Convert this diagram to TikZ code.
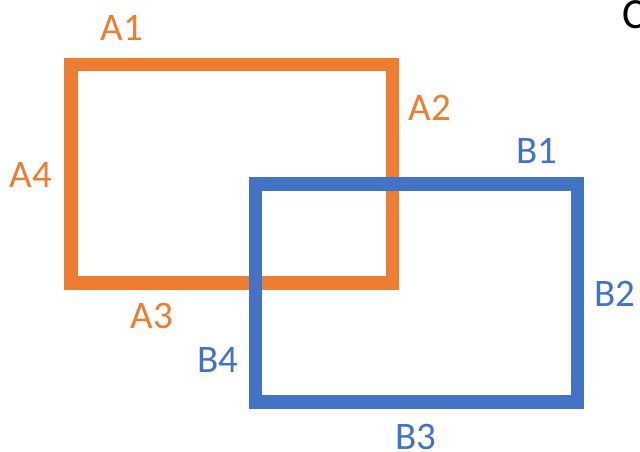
\documentclass[tikz,border=0pt]{standalone}
\usepackage{fontspec}
\setmainfont{Carlito}
\definecolor{offorange}{HTML}{ED7D31}
\definecolor{offblue}{HTML}{4472C4}
\tikzset{
  box/.style={draw, line width=13.5pt, inner sep=0pt, fill=none},
  lbl/.style={inner sep=0pt, anchor=center, font=\fontsize{39}{47}\selectfont},
}
\begin{document}
\begin{tikzpicture}[x=1pt,y=-1pt]
\useasboundingbox[fill=white] (0,0) rectangle (640,452);
\node[box, offorange, minimum width=321.5pt, minimum height=218.5pt] (rectA) at (231.75,173.75) {};
\node[box, offblue, minimum width=322pt, minimum height=218pt] (rectB) at (416.5,293) {};
\node[lbl, text=offorange] (a1) at (122,27.5) {A1};
\node[lbl, text=offorange] (a2) at (430,108.3) {A2};
\node[lbl, text=offorange] (a3) at (152,316) {A3};
\node[lbl, text=offorange] (a4) at (31,174.5) {A4};
\node[lbl, text=offblue] (b1) at (536.5,151) {B1};
\node[lbl, text=offblue] (b2) at (615,293.7) {B2};
\node[lbl, text=offblue] (b3) at (416,436.5) {B3};
\node[lbl, text=offblue] (b4) at (217.5,360) {B4};
\node[lbl, anchor=base west, text=black, font=\fontsize{43}{50}\selectfont] (c) at (622,29) {C};
\end{tikzpicture}
\end{document}
